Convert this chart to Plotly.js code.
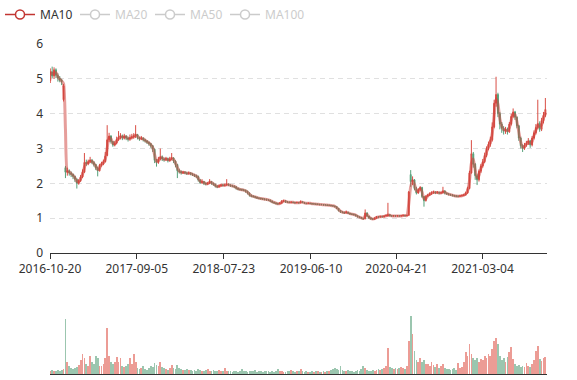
<!DOCTYPE html>
<html>
<head>
<meta charset="utf-8">
<script src="https://cdn.plot.ly/plotly-3.0.1.min.js"></script>
<style>html,body{margin:0;padding:0;background:#fff}#chart{width:577px;height:380px}</style>
</head>
<body>
<div id="chart"></div>
<script>
// Weekly candles (week ending Friday)
const dates = [
'2016-10-21','2016-10-28','2016-11-04','2016-11-11','2016-11-18','2016-11-25','2016-12-02','2016-12-09','2016-12-16','2016-12-23','2016-12-30',
'2017-01-06','2017-01-13','2017-01-20','2017-01-27','2017-02-03','2017-02-10','2017-02-17','2017-02-24','2017-03-03','2017-03-10','2017-03-17','2017-03-24','2017-03-31','2017-04-07','2017-04-14','2017-04-21','2017-04-28','2017-05-05','2017-05-12','2017-05-19','2017-05-26','2017-06-02','2017-06-09','2017-06-16','2017-06-23','2017-06-30','2017-07-07','2017-07-14','2017-07-21','2017-07-28','2017-08-04','2017-08-11','2017-08-18','2017-08-25','2017-09-01','2017-09-08','2017-09-15','2017-09-22','2017-09-29','2017-10-06','2017-10-13','2017-10-20','2017-10-27','2017-11-03','2017-11-10','2017-11-17','2017-11-24','2017-12-01','2017-12-08','2017-12-15','2017-12-22','2017-12-29',
'2018-01-05','2018-01-12','2018-01-19','2018-01-26','2018-02-02','2018-02-09','2018-02-16','2018-02-23','2018-03-02','2018-03-09','2018-03-16','2018-03-23','2018-03-30','2018-04-06','2018-04-13','2018-04-20','2018-04-27','2018-05-04','2018-05-11','2018-05-18','2018-05-25','2018-06-01','2018-06-08','2018-06-15','2018-06-22','2018-06-29','2018-07-06','2018-07-13','2018-07-20','2018-07-27','2018-08-03','2018-08-10','2018-08-17','2018-08-24','2018-08-31','2018-09-07','2018-09-14','2018-09-21','2018-09-28','2018-10-05','2018-10-12','2018-10-19','2018-10-26','2018-11-02','2018-11-09','2018-11-16','2018-11-23','2018-11-30','2018-12-07','2018-12-14','2018-12-21','2018-12-28',
'2019-01-04','2019-01-11','2019-01-18','2019-01-25','2019-02-01','2019-02-08','2019-02-15','2019-02-22','2019-03-01','2019-03-08','2019-03-15','2019-03-22','2019-03-29','2019-04-05','2019-04-12','2019-04-19','2019-04-26','2019-05-03','2019-05-10','2019-05-17','2019-05-24','2019-05-31','2019-06-07','2019-06-14','2019-06-21','2019-06-28','2019-07-05','2019-07-12','2019-07-19','2019-07-26','2019-08-02','2019-08-09','2019-08-16','2019-08-23','2019-08-30','2019-09-06','2019-09-13','2019-09-20','2019-09-27','2019-10-04','2019-10-11','2019-10-18','2019-10-25','2019-11-01','2019-11-08','2019-11-15','2019-11-22','2019-11-29','2019-12-06','2019-12-13','2019-12-20','2019-12-27',
'2020-01-03','2020-01-10','2020-01-17','2020-01-24','2020-01-31','2020-02-07','2020-02-14','2020-02-21','2020-02-28','2020-03-06','2020-03-13','2020-03-20','2020-03-27','2020-04-03','2020-04-10','2020-04-17','2020-04-24','2020-05-01','2020-05-08','2020-05-15','2020-05-22','2020-05-29','2020-06-05','2020-06-12','2020-06-19','2020-06-26','2020-07-03','2020-07-10','2020-07-17','2020-07-24','2020-07-31','2020-08-07','2020-08-14','2020-08-21','2020-08-28','2020-09-04','2020-09-11','2020-09-18','2020-09-25','2020-10-02','2020-10-09','2020-10-16','2020-10-23','2020-10-30','2020-11-06','2020-11-13','2020-11-20','2020-11-27','2020-12-04','2020-12-11','2020-12-18','2020-12-25',
'2021-01-01','2021-01-08','2021-01-15','2021-01-22','2021-01-29','2021-02-05','2021-02-12','2021-02-19','2021-02-26','2021-03-05','2021-03-12','2021-03-19','2021-03-26','2021-04-02','2021-04-09','2021-04-16','2021-04-23','2021-04-30','2021-05-07','2021-05-14','2021-05-21','2021-05-28','2021-06-04','2021-06-11','2021-06-18','2021-06-25','2021-07-02','2021-07-09','2021-07-16','2021-07-23','2021-07-30','2021-08-06','2021-08-13','2021-08-20','2021-08-27','2021-09-03','2021-09-10','2021-09-17','2021-09-24','2021-10-01','2021-10-08','2021-10-15','2021-10-22'
];

const openP = [
4.95,5.20,5.08,5.26,5.10,5.02,4.96,4.40,2.45,2.32,
2.36,2.30,2.26,2.20,2.12,2.00,2.08,2.18,2.32,2.60,
2.56,2.62,2.66,2.60,2.54,2.44,2.36,2.52,2.56,2.62,
2.80,3.25,3.36,3.20,3.10,3.16,3.26,3.32,3.36,3.30,
3.36,3.30,3.27,3.31,3.33,3.36,3.40,3.31,3.28,3.30,
3.25,3.22,3.18,3.14,3.08,2.98,2.66,2.60,2.70,2.76,
2.70,2.68,2.71,2.65,2.70,2.73,2.64,2.54,2.36,2.34,
2.30,2.32,2.30,2.28,2.30,2.27,2.25,2.22,2.20,2.10,
2.02,2.05,2.00,1.98,2.00,2.05,2.00,1.97,1.92,1.90,
1.93,1.95,1.94,1.95,1.97,1.95,1.93,1.92,1.90,1.86,
1.83,1.82,1.81,1.80,1.77,1.72,1.66,1.63,1.62,1.60,
1.58,1.57,1.56,1.55,1.54,1.53,1.52,1.49,1.46,1.44,
1.42,1.41,1.43,1.48,1.50,1.47,1.46,1.45,1.46,1.45,
1.44,1.45,1.44,1.47,1.45,1.43,1.42,1.43,1.42,1.41,
1.41,1.40,1.40,1.39,1.39,1.38,1.38,1.37,1.37,1.36,
1.35,1.33,1.28,1.22,1.18,1.17,1.15,1.17,1.14,1.12,
1.11,1.10,1.07,1.04,1.02,1.00,0.98,1.15,1.06,1.01,
0.98,0.97,1.00,1.04,1.03,1.05,1.04,1.06,1.06,1.10,
1.07,1.06,1.07,1.06,1.07,1.06,1.07,1.08,1.07,1.08,
2.25,2.05,2.10,1.85,1.72,1.82,1.88,1.62,1.50,1.63,
1.66,1.70,1.73,1.75,1.73,1.74,1.72,1.73,1.78,1.72,
1.70,1.68,1.67,1.65,1.64,1.63,1.63,1.64,1.65,1.67,
1.72,1.85,2.30,2.85,2.55,2.22,2.10,2.35,2.50,2.62,
2.80,3.00,3.12,3.25,3.62,4.30,4.55,4.00,3.70,3.58,
3.50,3.55,3.48,3.70,3.92,4.05,3.90,3.65,3.30,3.08,
3.00,3.10,3.15,3.22,3.10,3.30,3.45,3.60,3.72,3.55,
3.80,3.95
];

const highP = [
5.30,5.35,5.33,5.30,5.16,5.08,5.00,4.85,2.50,2.45,
2.40,2.34,2.28,2.22,2.14,2.12,2.24,2.40,2.87,2.68,
2.68,2.76,2.70,2.64,2.56,2.48,2.56,2.62,2.68,2.90,
3.67,3.45,3.38,3.22,3.22,3.34,3.50,3.44,3.40,3.42,
3.38,3.34,3.40,3.42,3.44,3.67,3.42,3.34,3.36,3.32,
3.28,3.24,3.20,3.16,3.10,3.00,2.70,2.76,3.00,2.80,
2.74,2.76,2.74,2.76,2.87,2.75,2.66,2.56,2.42,2.37,
2.36,2.35,2.33,2.34,2.32,2.30,2.27,2.25,2.22,2.12,
2.12,2.07,2.03,2.04,2.12,2.07,2.02,1.99,1.95,1.97,
1.99,1.98,1.99,2.12,2.00,1.97,1.96,1.94,1.92,1.88,
1.86,1.85,1.84,1.82,1.79,1.74,1.68,1.66,1.64,1.62,
1.60,1.59,1.58,1.57,1.56,1.55,1.53,1.50,1.47,1.45,
1.44,1.46,1.52,1.53,1.51,1.49,1.48,1.48,1.47,1.46,
1.47,1.46,1.51,1.48,1.46,1.44,1.45,1.44,1.43,1.43,
1.42,1.42,1.41,1.41,1.40,1.40,1.39,1.39,1.38,1.37,
1.36,1.34,1.29,1.23,1.20,1.18,1.22,1.18,1.15,1.14,
1.13,1.11,1.08,1.05,1.03,1.01,1.25,1.17,1.07,1.02,
1.00,1.02,1.06,1.06,1.07,1.07,1.08,1.10,1.44,1.12,
1.09,1.09,1.08,1.09,1.08,1.09,1.10,1.09,1.10,1.78,
2.38,2.20,2.12,1.90,1.86,1.92,1.90,1.64,1.66,1.70,
1.74,1.77,1.79,1.77,1.78,1.76,1.76,1.90,1.80,1.74,
1.72,1.70,1.69,1.67,1.66,1.65,1.66,1.68,1.70,1.76,
1.90,2.36,3.24,2.90,2.58,2.28,2.40,2.56,2.70,2.88,
3.06,3.20,3.34,3.75,4.40,5.06,4.60,4.05,3.76,3.64,
3.62,3.60,3.76,4.00,4.15,4.08,3.92,3.68,3.34,3.12,
3.16,3.22,3.30,3.25,3.36,3.52,3.70,4.40,3.78,3.88,
4.05,4.45
];

const lowP = [
4.88,5.02,5.00,5.02,4.92,4.90,4.82,4.35,2.15,2.22,
2.22,2.18,2.12,2.04,1.85,1.96,2.04,2.15,2.30,2.50,
2.52,2.58,2.55,2.48,2.38,2.20,2.34,2.48,2.52,2.60,
2.78,3.18,3.14,3.05,3.06,3.12,3.22,3.26,3.24,3.26,
3.24,3.20,3.22,3.26,3.28,3.30,3.26,3.22,3.24,3.20,
3.17,3.13,3.08,3.02,2.90,2.58,2.48,2.56,2.66,2.64,
2.62,2.64,2.60,2.62,2.66,2.58,2.46,2.15,2.28,2.25,
2.27,2.26,2.24,2.25,2.23,2.21,2.18,2.15,2.05,1.98,
1.99,1.95,1.94,1.95,1.98,1.96,1.93,1.88,1.86,1.88,
1.90,1.91,1.91,1.93,1.92,1.90,1.89,1.86,1.82,1.80,
1.79,1.78,1.77,1.73,1.68,1.62,1.60,1.59,1.57,1.55,
1.54,1.53,1.52,1.51,1.50,1.49,1.46,1.43,1.41,1.39,
1.38,1.40,1.42,1.46,1.44,1.44,1.43,1.43,1.43,1.42,
1.43,1.42,1.43,1.43,1.41,1.40,1.41,1.40,1.39,1.39,
1.38,1.38,1.37,1.37,1.36,1.36,1.35,1.35,1.34,1.33,
1.31,1.26,1.19,1.15,1.14,1.12,1.14,1.12,1.10,1.09,
1.08,1.05,1.02,1.00,0.98,0.96,0.97,1.03,0.98,0.96,
0.95,0.96,0.99,1.01,1.02,1.02,1.03,1.05,1.05,1.05,
1.04,1.05,1.04,1.05,1.04,1.05,1.05,1.05,1.06,1.07,
1.90,1.95,1.80,1.68,1.70,1.78,1.58,1.33,1.48,1.60,
1.64,1.67,1.70,1.69,1.70,1.68,1.69,1.71,1.68,1.67,
1.65,1.64,1.62,1.61,1.60,1.60,1.61,1.62,1.63,1.65,
1.70,1.83,2.28,2.45,2.10,1.95,2.05,2.30,2.45,2.58,
2.75,2.95,3.05,3.20,3.58,4.20,3.90,3.55,3.45,3.40,
3.42,3.40,3.45,3.66,3.88,3.82,3.58,3.22,3.00,2.90,
2.96,3.05,3.10,3.02,3.06,3.26,3.40,3.55,3.48,3.50,
3.72,3.90
];

const closeP = [
5.20,5.08,5.26,5.10,5.02,4.96,4.92,4.80,2.32,2.36,
2.30,2.26,2.20,2.12,2.00,2.08,2.18,2.32,2.60,2.56,
2.62,2.66,2.60,2.54,2.44,2.36,2.52,2.56,2.62,2.78,
3.25,3.36,3.20,3.10,3.16,3.26,3.32,3.36,3.30,3.36,
3.30,3.27,3.31,3.33,3.36,3.40,3.31,3.28,3.30,3.25,
3.22,3.18,3.14,3.08,2.98,2.66,2.60,2.70,2.76,2.70,
2.68,2.71,2.65,2.70,2.73,2.64,2.54,2.36,2.34,2.30,
2.32,2.30,2.28,2.30,2.27,2.25,2.22,2.20,2.10,2.02,
2.05,2.00,1.98,2.00,2.05,2.00,1.97,1.92,1.90,1.93,
1.95,1.94,1.95,1.97,1.95,1.93,1.92,1.90,1.86,1.83,
1.82,1.81,1.80,1.77,1.72,1.66,1.63,1.62,1.60,1.58,
1.57,1.56,1.55,1.54,1.53,1.52,1.49,1.46,1.44,1.42,
1.41,1.43,1.48,1.50,1.47,1.46,1.45,1.46,1.45,1.44,
1.45,1.44,1.47,1.45,1.43,1.42,1.43,1.42,1.41,1.41,
1.40,1.40,1.39,1.39,1.38,1.38,1.37,1.37,1.36,1.35,
1.33,1.28,1.22,1.18,1.17,1.15,1.17,1.14,1.12,1.11,
1.10,1.07,1.04,1.02,1.00,0.98,1.15,1.06,1.01,0.98,
0.97,1.00,1.04,1.03,1.05,1.04,1.06,1.08,1.10,1.07,
1.06,1.07,1.06,1.07,1.06,1.07,1.08,1.07,1.08,1.75,
2.05,2.10,1.85,1.72,1.82,1.88,1.62,1.50,1.63,1.66,
1.70,1.73,1.75,1.73,1.74,1.72,1.73,1.78,1.72,1.70,
1.68,1.67,1.65,1.64,1.63,1.63,1.64,1.65,1.67,1.72,
1.85,2.30,2.85,2.55,2.22,2.10,2.35,2.50,2.62,2.80,
3.00,3.12,3.25,3.62,4.30,4.55,4.00,3.70,3.58,3.50,
3.55,3.48,3.70,3.92,4.05,3.90,3.65,3.30,3.08,3.00,
3.10,3.15,3.22,3.10,3.30,3.45,3.60,3.72,3.55,3.80,
3.95,4.12
];

const volume = [
3,4,3,3,4,3,4,5,55,12,
8,6,5,6,7,9,14,20,16,10,
8,18,12,10,18,16,8,8,10,16,
46,18,12,10,12,17,12,16,8,7,
8,10,16,10,20,12,6,5,6,8,
5,4,6,8,7,11,9,8,12,7,
6,5,4,6,9,6,5,9,6,5,
4,4,5,4,4,3,4,3,5,4,
3,3,4,5,3,3,4,3,3,4,
3,3,6,3,3,3,2,3,3,2,
3,5,3,3,2,3,3,3,4,2,
3,3,2,3,3,3,2,3,2,3,
5,3,3,2,2,3,3,4,3,2,
3,3,5,3,2,3,2,2,3,2,
3,3,2,2,3,2,3,3,4,5,
6,5,4,8,4,3,3,4,3,3,
2,3,4,3,5,8,6,4,3,3,
4,3,4,5,4,5,6,8,26,7,
6,5,6,5,6,7,6,5,8,33,
58,40,23,14,12,16,12,14,10,10,
8,12,9,7,10,6,8,10,6,5,
5,4,5,6,4,11,6,7,12,22,
18,30,20,16,14,16,12,15,14,18,
16,20,18,25,33,36,30,18,14,16,
12,17,22,27,15,10,8,9,7,8,
7,11,8,7,10,14,23,28,15,13,
16,17
];

const tickDates = ['2016-10-20','2017-09-05','2018-07-23','2019-06-10','2020-04-21','2021-03-04'];
const maNames = ['MA10','MA20','MA50','MA100'];
// trading-day windows expressed in weekly candles (5 trading days per week)
const maWindows = [2,4,10,20];

const UP = '#d94e45', DOWN = '#55a07a';
const UP_VOL = 'rgba(222,84,72,0.58)', DOWN_VOL = 'rgba(82,156,118,0.58)';

function movingAverage(vals, n) {
  const out = [];
  for (let i = 0; i < vals.length; i++) {
    const s = Math.max(0, i - n + 1);
    let sum = 0;
    for (let j = s; j <= i; j++) sum += vals[j];
    out.push(+(sum / (i - s + 1)).toFixed(3));
  }
  return out;
}

const traces = [];
const ma10 = movingAverage(closeP, maWindows[0]);
traces.push({
  type: 'scatter', mode: 'lines', x: dates, y: ma10, name: maNames[0], legendgroup: 'ma0',
  showlegend: false, line: {color: 'rgba(205,62,55,0.5)', width: 3, shape: 'spline', smoothing: 0.6},
  hoverinfo: 'skip', xaxis: 'x', yaxis: 'y'
});
traces.push({
  type: 'candlestick', x: dates, open: openP, high: highP, low: lowP, close: closeP,
  xaxis: 'x', yaxis: 'y', showlegend: false, hoverinfo: 'skip',
  increasing: {line: {color: UP, width: 1}, fillcolor: UP},
  decreasing: {line: {color: DOWN, width: 1}, fillcolor: DOWN},
  whiskerwidth: 0
});
// legend key for MA10 (empty circle on a line, as in the original legend)
traces.push({
  type: 'scatter', mode: 'lines+markers', x: [null], y: [null], name: maNames[0], legendgroup: 'ma0',
  line: {color: '#c23531', width: 1.5},
  marker: {symbol: 'circle', size: 9, color: '#ffffff', line: {color: '#c23531', width: 1.5}},
  xaxis: 'x', yaxis: 'y'
});
for (let k = 1; k < maNames.length; k++) {
  traces.push({
    type: 'scatter', mode: 'lines+markers', x: dates, y: movingAverage(closeP, maWindows[k]),
    name: '<span style="color:#999">' + maNames[k] + '</span>', visible: 'legendonly',
    legendwidth: k === maNames.length - 1 ? 50 : 30,
    line: {color: '#999', width: 1.5},
    marker: {symbol: 'circle', size: 9, color: '#ffffff', line: {color: '#999', width: 1.5}, maxdisplayed: 1},
    xaxis: 'x', yaxis: 'y', hoverinfo: 'skip'
  });
}

traces.push({
  type: 'bar', x: dates, y: volume, xaxis: 'x2', yaxis: 'y2', showlegend: false, hoverinfo: 'skip',
  width: 6.5 * 86400000,
  marker: {color: closeP.map((c, i) => c >= openP[i] ? UP_VOL : DOWN_VOL), line: {width: 0}}
});

const xRange = ['2016-10-20', '2021-10-28'];
const layout = {
  width: 577, height: 380,
  margin: {l: 50, r: 30, t: 44, b: 6, pad: 0},
  paper_bgcolor: '#ffffff', plot_bgcolor: '#ffffff',
  font: {family: '"Noto Sans", sans-serif', size: 12, color: '#333'},
  showlegend: true,
  legend: {
    orientation: 'h', xref: 'container', yref: 'container', x: -0.005, y: 1,
    xanchor: 'left', yanchor: 'top', font: {size: 12, color: '#333'},
    bgcolor: 'rgba(0,0,0,0)', itemwidth: 30, entrywidth: 30, entrywidthmode: 'pixels'
  },
  xaxis: {
    type: 'date', range: xRange, anchor: 'y', domain: [0, 1],
    tickmode: 'array', tickvals: tickDates, ticktext: tickDates,
    ticks: 'outside', ticklen: 5, tickcolor: '#333', tickwidth: 1,
    showline: true, linecolor: '#333', linewidth: 1,
    showgrid: false, zeroline: false, rangeslider: {visible: false},
    tickfont: {size: 12, color: '#333'}
  },
  yaxis: {
    domain: [0.3667, 1], range: [0, 6], tick0: 0, dtick: 1, anchor: 'x',
    showline: false, ticks: '', showgrid: true, gridcolor: '#e0e0e0', griddash: '5px,4px',
    zeroline: false, tickfont: {size: 12, color: '#333'}, ticklabelstandoff: 6
  },
  xaxis2: {
    type: 'date', range: xRange, anchor: 'y2', domain: [0, 1],
    showticklabels: false, ticks: '', showline: true, linecolor: '#333', linewidth: 1,
    showgrid: false, zeroline: false, rangeslider: {visible: false}
  },
  yaxis2: {domain: [0, 0.2242], range: [0, 74], visible: false, showgrid: false, zeroline: false, anchor: 'x2'},
  bargap: 0
};

Plotly.newPlot('chart', traces, layout, {staticPlot: true, displayModeBar: false});
</script>
</body>
</html>
